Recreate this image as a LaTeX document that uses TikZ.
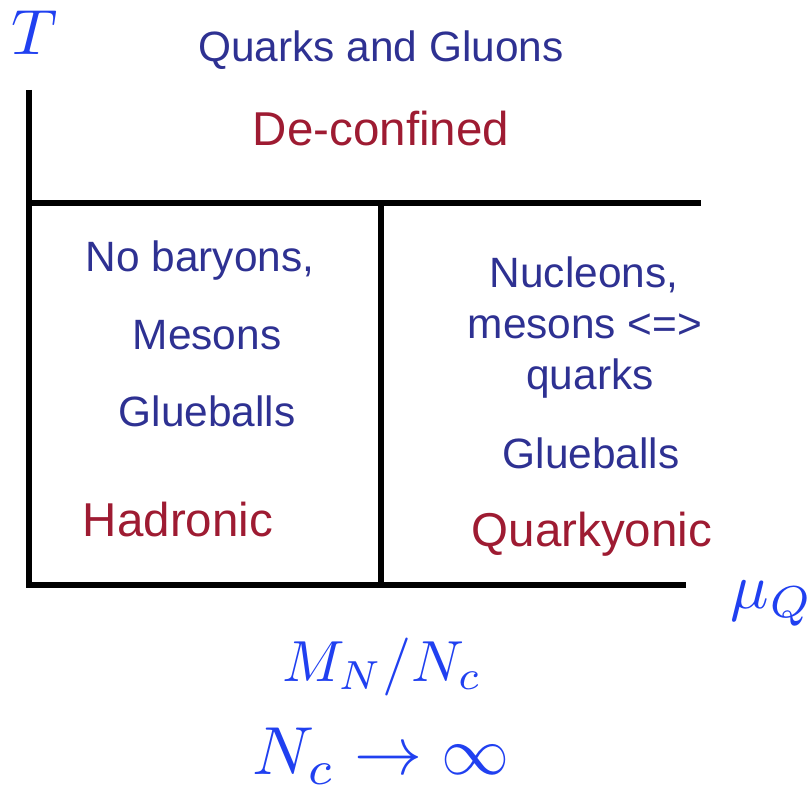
\documentclass[tikz,border=0pt]{standalone}
\usepackage{fontspec}
\setsansfont{Liberation Sans}
\usepackage{amsmath}

\definecolor{phaseblue}{RGB}{46,49,146}
\definecolor{phasered}{RGB}{158,27,50}
\definecolor{axisblue}{RGB}{32,64,240}

\newcommand{\axismath}[2][3.1]{\scalebox{#1}{$#2$}}

\tikzset{
  phase/.style={anchor=base, inner sep=0pt, text=phaseblue, font=\sffamily\fontsize{21.2}{24}\selectfont},
  regime/.style={anchor=base, inner sep=0pt, text=phasered, font=\sffamily\fontsize{23.75}{28}\selectfont},
  axislabel/.style={anchor=base, inner sep=0pt, text=axisblue},
  wall/.style={line width=2.8pt}
}

\begin{document}
\begin{tikzpicture}[x=0.5pt,y=-0.5pt]
	\useasboundingbox (0,0) rectangle (812,791);

	% phase boundaries
	\coordinate (ttop) at (29,90);
	\coordinate (tbot) at (29,588);
	\coordinate (dleft) at (29,203);
	\coordinate (dright) at (701,203);
	\coordinate (mtop) at (381,203);
	\coordinate (mbot) at (381,585);
	\coordinate (bleft) at (27,585);
	\coordinate (bright) at (686,585);

	\draw[wall] (ttop) -- (tbot);
	\draw[wall] (dleft) -- (dright);
	\draw[wall] (mtop) -- (mbot);
	\draw[wall] (bleft) -- (bright);

	% axes
	\node[axislabel] (temp) at (35,55) {\axismath[3.2]{T}};
	\node[axislabel] (muq) at (772,608) {\axismath[3.2]{\mu_Q}};
	\node[axislabel] (mass) at (382,681) {\axismath[2.9]{M_N/N_c}};
	\node[axislabel] (limit) at (381,774) {\axismath[3.4]{N_c \rightarrow \infty}};

	% de-confined phase
	\node[phase] (qg) at (381,62) {Quarks and Gluons};
	\node[regime] (deconf) at (381,146) {De-confined};

	% hadronic phase
	\node[phase] (nobar) at (200,271) {No baryons,};
	\node[phase] (mes) at (207,349) {Mesons};
	\node[phase] (glueL) at (207,426) {Glueballs};
	\node[regime] (had) at (178,536) {Hadronic};

	% quarkyonic phase
	\node[phase] (nuc) at (584,287) {Nucleons,};
	\node[phase] (mesq) at (585,338) {mesons <=>};
	\node[phase] (qk) at (590,389) {quarks};
	\node[phase] (glueR) at (591,468) {Glueballs};
	\node[regime] (qky) at (592,546) {Quarkyonic};
\end{tikzpicture}
\end{document}
